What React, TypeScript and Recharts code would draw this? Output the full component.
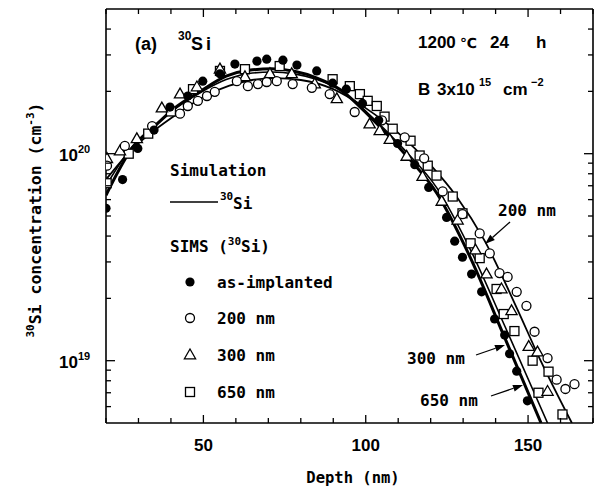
import React from 'react';
import { ComposedChart, Line, Scatter, XAxis, YAxis } from 'recharts';

// ---- axes ----
const xTicks = [20, 30, 40, 50, 60, 70, 80, 90, 100, 110, 120, 130, 140, 150, 160, 170];
const xLabelTicks = [50, 100, 150];
const yTicks = [6e18, 7e18, 8e18, 9e18, 1e19, 2e19, 3e19, 4e19, 5e19, 6e19, 7e19, 8e19, 9e19, 1e20, 2e20, 3e20, 4e20];
const yLabelTicks = [1e19, 1e20];

// ---- simulation lines [depth nm, conc cm^-3] ----
const sim300: number[][] = [
  [20, 6.3e19], [28, 1.06e20], [35, 1.36e20], [42, 1.7e20], [49, 2.0e20], [57, 2.37e20], [64, 2.53e20],
  [71, 2.57e20], [78, 2.5e20], [85, 2.32e20], [92, 2.05e20], [102, 1.47e20], [112, 1.0e20], [122, 6.4e19],
  [132, 3.2e19], [143, 1.27e19], [154, 5.0e18],
];
const sim650: number[][] = [
  [20, 7.0e19], [28, 1.08e20], [35, 1.37e20], [42, 1.68e20], [49, 1.97e20], [57, 2.28e20], [64, 2.44e20],
  [71, 2.48e20], [78, 2.43e20], [85, 2.28e20], [92, 2.03e20], [102, 1.5e20], [112, 1.04e20], [122, 6.8e19],
  [132, 3.5e19], [143, 1.45e19], [156, 5.0e18],
];
const sim200: number[][] = [
  [20, 7.5e19], [28, 1.05e20], [35, 1.3e20], [42, 1.56e20], [50, 1.88e20], [58, 2.13e20], [65, 2.27e20],
  [72, 2.32e20], [80, 2.27e20], [90, 2.05e20], [100, 1.66e20], [110, 1.26e20], [120, 8.8e19], [128, 6.2e19],
  [136.6, 3.8e19], [146.5, 1.8e19], [153.5, 1.03e19], [163.5, 5.0e18],
];

// ---- SIMS data ----
const asImplanted: number[][] = [
  [20, 5.45e19], [25.1, 7.5e19], [29.8, 1.06e20], [34.8, 1.3e20], [39.7, 1.68e20], [45.2, 1.9e20],
  [49.8, 2.24e20], [55.1, 2.43e20], [59.7, 2.71e20], [66.5, 2.8e20], [69.5, 2.86e20], [74.5, 2.83e20],
  [78.8, 2.68e20], [84.9, 2.51e20], [89.8, 2.19e20], [94, 2.05e20], [99, 1.75e20], [104, 1.45e20],
  [109.8, 1.12e20], [115.1, 8.85e19], [119.4, 6.87e19], [124.9, 4.92e19], [127.4, 3.78e19], [129.8, 3.16e19],
  [132.6, 2.62e19], [135.7, 2.15e19], [139.7, 1.59e19], [142.8, 1.33e19], [144.3, 1.08e19], [146.5, 8.9e18],
  [149.8, 6.4e18],
];
const sims200: number[][] = [
  [20.3, 8.75e19], [25.8, 1.09e20], [34.2, 1.36e20], [42.8, 1.56e20], [45.2, 1.7e20], [48.3, 1.8e20],
  [51.1, 1.9e20], [53.5, 1.99e20], [60.3, 2.24e20], [63.7, 2.12e20], [66.8, 2.17e20], [69.5, 2.22e20],
  [72.6, 2.24e20], [77.5, 2.17e20], [83.4, 2.08e20], [88.9, 1.94e20], [96.6, 1.59e20], [105, 1.45e20],
  [112, 1.2e20], [118, 9.5e19], [123.7, 6.57e19], [129.8, 5.1e19], [135.1, 4.12e19], [138.2, 3.3e19],
  [141.2, 2.65e19], [143.7, 2.54e19], [146.5, 2.15e19], [149.5, 1.84e19], [152, 1.38e19], [156, 1.03e19],
  [158.8, 8.1e18], [161.5, 7.3e18], [164.3, 7.7e18],
];
const sims300: number[][] = [
  [20.3, 9.46e19], [24.3, 1.03e20], [29.5, 1.18e20], [37.2, 1.66e20], [42.8, 1.94e20], [48, 2.1e20],
  [55.1, 2.56e20], [62.8, 2.35e20], [70.5, 2.43e20], [77.2, 2.43e20], [84.3, 2.17e20], [91.1, 1.84e20],
  [101.2, 1.39e20], [104.3, 1.29e20], [107.4, 1.17e20], [112.6, 9.7e19], [117.5, 7.75e19], [123.4, 5.88e19],
  [128.3, 4.77e19], [133.8, 3.42e19], [137.2, 2.62e19], [141.8, 2.22e19], [144.9, 1.74e19], [150.2, 1.17e19],
  [152.9, 1.1e19], [156, 7.1e18],
];
const sims650: number[][] = [
  [20.2, 7.2e19], [27, 1.0e20], [33, 1.25e20], [40, 1.6e20], [46.8, 2.05e20], [55.1, 2.51e20], [62.8, 2.56e20],
  [73.5, 2.65e20], [89.8, 2.29e20], [95.1, 2.12e20], [98.2, 1.94e20], [100.6, 1.8e20], [103.4, 1.7e20],
  [105.8, 1.51e20], [108.3, 1.32e20], [113.8, 1.155e20], [116.6, 9.8e19], [119.1, 8.75e19], [121.8, 7.84e19],
  [126.8, 6.21e19], [129.8, 5.15e19], [132.3, 3.69e19], [135.1, 3.13e19], [140.3, 2.22e19], [142.5, 1.68e19],
  [145.8, 1.39e19], [151.4, 1.0e19], [153.2, 7.0e18], [156.3, 8.85e18], [160.6, 5.5e18],
];

const toPts = (a: number[][]) => a.map(([x, y]) => ({ x, y }));

const SANS = 'Liberation Sans, Arial, sans-serif';
const MONO = 'DejaVu Sans Mono, monospace';
const axisStyle = { stroke: '#000', strokeWidth: 1.6 };

const BottomTick = (p: any) => {
  const v = p.payload.value;
  const major = xLabelTicks.includes(v);
  return (
    <g>
      <line x1={p.x} y1={p.y} x2={p.x} y2={p.y - (major ? 8 : 5)} stroke="#000" strokeWidth={1.3} />
      {major && (
        <text x={p.x} y={p.y + 28} textAnchor="middle" fontFamily={SANS} fontWeight="bold" fontSize={17} fill="#000">{v}</text>
      )}
    </g>
  );
};
const TopTick = (p: any) => {
  const major = xLabelTicks.includes(p.payload.value);
  return <line x1={p.x} y1={p.y} x2={p.x} y2={p.y + (major ? 8 : 5)} stroke="#000" strokeWidth={1.3} />;
};
const LeftTick = (p: any) => {
  const v = p.payload.value;
  const major = yLabelTicks.includes(v);
  const e = Math.round(Math.log10(v));
  return (
    <g>
      <line x1={p.x} y1={p.y} x2={p.x + (major ? 9 : 5)} y2={p.y} stroke="#000" strokeWidth={1.3} />
      {major && (
        <text x={p.x - 47} y={p.y + 7} fontFamily={SANS} fontWeight="bold" fontSize={17} fill="#000">
          10<tspan fontSize={11} dy={-8}>{e}</tspan>
        </text>
      )}
    </g>
  );
};
const RightTick = (p: any) => {
  const major = yLabelTicks.includes(p.payload.value);
  return <line x1={p.x} y1={p.y} x2={p.x - (major ? 9 : 5)} y2={p.y} stroke="#000" strokeWidth={1.3} />;
};

const FilledCircle = (p: any) => <circle cx={p.cx} cy={p.cy} r={4.6} fill="#000" />;
const OpenCircle = (p: any) => <circle cx={p.cx} cy={p.cy} r={4.5} fill="#fff" stroke="#000" strokeWidth={1.3} />;
const triPts = (cx: number, cy: number) => `${cx},${cy - 6} ${cx + 5.6},${cy + 3.8} ${cx - 5.6},${cy + 3.8}`;
const Triangle = (p: any) => <polygon points={triPts(p.cx, p.cy)} fill="#fff" stroke="#000" strokeWidth={1.3} />;
const Square = (p: any) => <rect x={p.cx - 4.5} y={p.cy - 4.5} width={9} height={9} fill="#fff" stroke="#000" strokeWidth={1.3} />;

function Arrow({ x1, y1, x2, y2 }: { x1: number; y1: number; x2: number; y2: number }) {
  const a = Math.atan2(y2 - y1, x2 - x1);
  const L = 10, W = 3.5;
  const bx = x2 - L * Math.cos(a), by = y2 - L * Math.sin(a);
  const p1 = `${bx - W * Math.sin(a)},${by + W * Math.cos(a)}`;
  const p2 = `${bx + W * Math.sin(a)},${by - W * Math.cos(a)}`;
  return (
    <g>
      <line x1={x1} y1={y1} x2={bx} y2={by} stroke="#000" strokeWidth={1.3} />
      <polygon points={`${x2},${y2} ${p1} ${p2}`} fill="#000" />
    </g>
  );
}

export default function App() {
  return (
    <div style={{ position: 'absolute', left: 0, top: 0, width: 597, height: 491, background: '#fff', overflow: 'hidden' }}>
      <ComposedChart width={597} height={491} margin={{ top: 8, right: 3, bottom: 67, left: 105 }}>
        <XAxis xAxisId="b" orientation="bottom" dataKey="x" type="number" domain={[20, 170]} ticks={xTicks}
          interval={0} allowDataOverflow height={1} tickSize={0} tickMargin={0} tickLine={false}
          tick={BottomTick} axisLine={axisStyle} />
        <XAxis xAxisId="t" orientation="top" dataKey="x" type="number" domain={[20, 170]} ticks={xTicks}
          interval={0} allowDataOverflow height={1} tickSize={0} tickMargin={0} tickLine={false}
          tick={TopTick} axisLine={axisStyle} />
        <YAxis yAxisId="l" orientation="left" dataKey="y" type="number" scale="log" domain={[5e18, 5e20]}
          ticks={yTicks} interval={0} allowDataOverflow width={1} tickSize={0} tickMargin={0} tickLine={false}
          tick={LeftTick} axisLine={axisStyle} />
        <YAxis yAxisId="r" orientation="right" dataKey="y" type="number" scale="log" domain={[5e18, 5e20]}
          ticks={yTicks} interval={0} allowDataOverflow width={1} tickSize={0} tickMargin={0} tickLine={false}
          tick={RightTick} axisLine={axisStyle} />

        <Line xAxisId="b" yAxisId="l" data={toPts(sim200)} dataKey="y" type="monotone" stroke="#000"
          strokeWidth={1.8} dot={false} isAnimationActive={false} />
        <Line xAxisId="b" yAxisId="l" data={toPts(sim650)} dataKey="y" type="monotone" stroke="#000"
          strokeWidth={1.6} dot={false} isAnimationActive={false} />
        <Line xAxisId="b" yAxisId="l" data={toPts(sim300)} dataKey="y" type="monotone" stroke="#000"
          strokeWidth={3} dot={false} isAnimationActive={false} />

        <Scatter xAxisId="b" yAxisId="l" data={toPts(sims650)} dataKey="y" shape={Square} isAnimationActive={false} />
        <Scatter xAxisId="b" yAxisId="l" data={toPts(sims300)} dataKey="y" shape={Triangle} isAnimationActive={false} />
        <Scatter xAxisId="b" yAxisId="l" data={toPts(sims200)} dataKey="y" shape={OpenCircle} isAnimationActive={false} />
        <Scatter xAxisId="b" yAxisId="l" data={toPts(asImplanted)} dataKey="y" shape={FilledCircle} isAnimationActive={false} />
      </ComposedChart>

      <svg width={597} height={491} style={{ position: 'absolute', left: 0, top: 0, pointerEvents: 'none' }}>
        <g fill="#000" fontWeight="bold">
          {/* panel label */}
          <text x={135} y={50} fontFamily={SANS} fontSize={18}>(a)</text>
          <text x={178} y={40} fontFamily={SANS} fontSize={12}>30</text>
          <text x={191} y={50} fontFamily={SANS} fontSize={18} letterSpacing={3}>Si</text>

          {/* conditions */}
          <text x={418} y={48} fontFamily={SANS} fontSize={17}>1200</text>
          <text x={460} y={48} fontFamily="DejaVu Sans, sans-serif" fontSize={14}>℃</text>
          <text x={490} y={48} fontFamily={SANS} fontSize={17}>24</text>
          <text x={536} y={48} fontFamily={SANS} fontSize={17}>h</text>
          <text x={418} y={95} fontFamily={SANS} fontSize={17}>B</text>
          <text x={437} y={95} fontFamily={SANS} fontSize={17}>3x10</text>
          <text x={479} y={86} fontFamily={SANS} fontSize={11}>15</text>
          <text x={503} y={95} fontFamily={SANS} fontSize={17}>cm</text>
          <text x={531} y={86} fontFamily={SANS} fontSize={11}>−2</text>

          {/* legend */}
          <text x={170} y={176} fontFamily={MONO} fontSize={16}>Simulation</text>
          <line x1={170} y1={202} x2={218} y2={202} stroke="#000" strokeWidth={1.6} />
          <text x={220} y={200} fontFamily={MONO} fontSize={11}>30</text>
          <text x={233} y={209} fontFamily={MONO} fontSize={16}>Si</text>
          <text x={170} y={252} fontFamily={MONO} fontSize={16}>
            SIMS (<tspan fontSize={11} dy={-7}>30</tspan><tspan dy={7}>Si)</tspan>
          </text>
          <circle cx={190} cy={282} r={4.6} fill="#000" />
          <text x={217} y={288} fontFamily={MONO} fontSize={16}>as-implanted</text>
          <circle cx={190} cy={318} r={4.5} fill="#fff" stroke="#000" strokeWidth={1.3} />
          <text x={217} y={324} fontFamily={MONO} fontSize={16}>200 nm</text>
          <polygon points={triPts(190, 355)} fill="#fff" stroke="#000" strokeWidth={1.3} />
          <text x={217} y={361} fontFamily={MONO} fontSize={16}>300 nm</text>
          <rect x={185.5} y={387.5} width={9} height={9} fill="#fff" stroke="#000" strokeWidth={1.3} />
          <text x={217} y={398} fontFamily={MONO} fontSize={16}>650 nm</text>

          {/* annotations */}
          <text x={498} y={216} fontFamily={MONO} fontSize={16}>200 nm</text>
          <Arrow x1={510} y1={222} x2={485} y2={244} />
          <text x={407} y={364} fontFamily={MONO} fontSize={16}>300 nm</text>
          <Arrow x1={476} y1={355} x2={505} y2={345} />
          <text x={420} y={406} fontFamily={MONO} fontSize={16}>650 nm</text>
          <Arrow x1={491} y1={396} x2={523} y2={385} />

          {/* axis titles */}
          <text x={353} y={483} textAnchor="middle" fontFamily={MONO} fontSize={15.5}>Depth (nm)</text>
          <text transform="translate(41,220) rotate(-90)" textAnchor="middle" fontFamily={MONO} fontSize={16.5}>
            <tspan fontSize={11} dy={-7}>30</tspan><tspan dy={7}>Si concentration (cm</tspan>
            <tspan fontSize={11} dy={-7}>-3</tspan><tspan dy={7}>)</tspan>
          </text>
        </g>
      </svg>
    </div>
  );
}
